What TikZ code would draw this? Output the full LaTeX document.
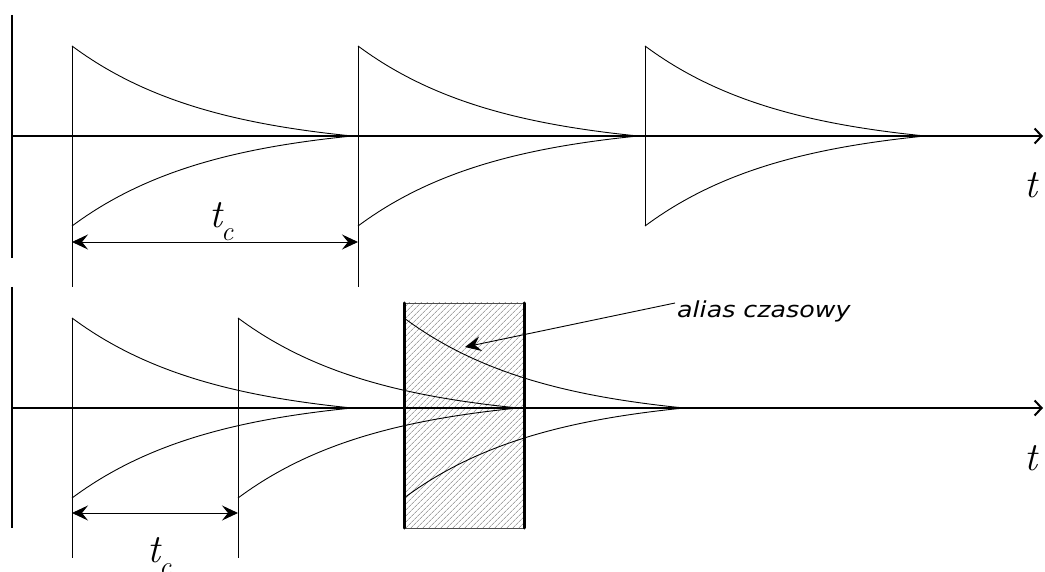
\documentclass[tikz,border=0pt]{standalone}
\usepackage{fontspec}
\newfontfamily\labelfont{DejaVu Sans}
\usetikzlibrary{arrows.meta,patterns.meta}
\newcommand\tlabel{{\fontsize{40}{44}\selectfont\itshape t}}
\newcommand\tclabel{{\fontsize{40}{44}\selectfont\itshape t}\kern-1pt\raisebox{-13pt}{\fontsize{27}{30}\selectfont\itshape c}}
\begin{document}
\begin{tikzpicture}[x=1pt,y=-1pt,
  axis/.style={line width=2pt},
  axisarrow/.style={line width=2pt,-{Straight Barb[length=7pt,width=15pt,line width=2pt]}},
  wave/.style={line width=0.9pt},
  guide/.style={line width=0.9pt},
  dimarrow/.style={line width=0.9pt,{Stealth[length=16pt,width=15pt,inset=6pt]}-{Stealth[length=16pt,width=15pt,inset=6pt]}},
  leader/.style={line width=0.9pt,-{Stealth[length=16pt,width=15pt,inset=6pt]}},
  edge/.style={line width=3pt,line cap=round},
  lbl/.style={inner sep=0pt},
  note/.style={font=\labelfont\itshape\fontsize{22}{24}\selectfont,inner sep=0pt}
]
\useasboundingbox (0,0) rectangle (1045,572);

% ---------- top panel ----------
\coordinate (ta0) at (12,15);  \coordinate (ta1) at (12,258);
\coordinate (th0) at (12,136); \coordinate (th1) at (1043,136);
\draw[axis] (ta0) -- (ta1);
\draw[axisarrow] (th0) -- (th1);
\foreach \x in {72,358,645}{
  \draw[wave] plot[domain=0:1,samples=60,variable=\u] ({\x+280*\u},{136-(104.08*exp(-2*\u)-14.08)});
  \draw[wave] plot[domain=0:1,samples=60,variable=\u] ({\x+280*\u},{136+(104.08*exp(-2*\u)-14.08)});
}
\coordinate (p1t) at (72,46);  \coordinate (p1b) at (72,287);
\coordinate (p2t) at (358,46); \coordinate (p2b) at (358,287);
\coordinate (p3t) at (645,46); \coordinate (p3b) at (645,226);
\draw[guide] (p1t) -- (p1b);
\draw[guide] (p2t) -- (p2b);
\draw[guide] (p3t) -- (p3b);
\coordinate (d1a) at (72,242); \coordinate (d1b) at (358,242);
\draw[dimarrow] (d1a) -- (d1b);
\node[lbl,anchor=base west] (tc1) at (209,228) {\tclabel};
\node[lbl,anchor=base west] (t1) at (1024,198) {\tlabel};

% ---------- bottom panel ----------
\coordinate (ba0) at (12,287);  \coordinate (ba1) at (12,528);
\coordinate (bh0) at (12,408);  \coordinate (bh1) at (1043,408);
\fill[pattern={Lines[angle=45,distance=4pt,line width=0.5pt]},pattern color=black!55]
  (404,303) rectangle (524,528);
\coordinate (bx1) at (404,303); \coordinate (bx2) at (524,303);
\coordinate (bx3) at (524,528); \coordinate (bx4) at (404,528);
\draw[line width=0.8pt,black!70] (bx1) -- (bx2) (bx4) -- (bx3);
\draw[axis] (ba0) -- (ba1);
\draw[axisarrow] (bh0) -- (bh1);
\foreach \x in {72,238,404}{
  \draw[wave] plot[domain=0:1,samples=60,variable=\u] ({\x+280*\u},{408-(104.08*exp(-2*\u)-14.08)});
  \draw[wave] plot[domain=0:1,samples=60,variable=\u] ({\x+280*\u},{408+(104.08*exp(-2*\u)-14.08)});
}
\coordinate (q1t) at (72,318);  \coordinate (q1b) at (72,558);
\coordinate (q2t) at (238,318); \coordinate (q2b) at (238,558);
\draw[guide] (q1t) -- (q1b);
\draw[guide] (q2t) -- (q2b);
\draw[edge] (bx1) -- (bx4);
\draw[edge] (bx2) -- (bx3);
\coordinate (d2a) at (72,513); \coordinate (d2b) at (238,513);
\draw[dimarrow] (d2a) -- (d2b);
\node[lbl,anchor=base west] (tc2) at (147,562) {\tclabel};
\node[lbl,anchor=base west] (t2) at (1024,470) {\tlabel};

\node[note,anchor=base west] (alias) at (677,318) {\scalebox{1.15}[1]{alias czasowy}};
\coordinate (aliasend) at (675,303);
\coordinate (aliastip) at (465,347);
\draw[leader] (aliasend) -- (aliastip);
\end{tikzpicture}
\end{document}
